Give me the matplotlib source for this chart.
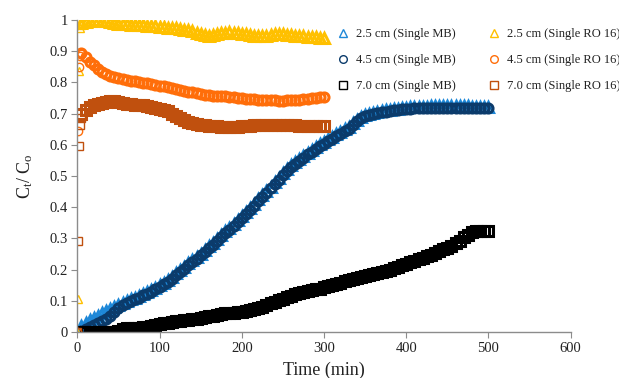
import numpy as np
import matplotlib
matplotlib.use("Agg")
import matplotlib.pyplot as plt

plt.rcParams['font.family'] = ['Liberation Serif', 'DejaVu Serif']
plt.rcParams['mathtext.fontset'] = 'custom'
plt.rcParams['mathtext.rm'] = 'Liberation Serif'
plt.rcParams['mathtext.it'] = 'Liberation Serif:italic'

# ---- MB series (time 0..500 min, every 5 min) ----
t_mb = list(range(0, 505, 5))
mb_25 = [0.0, 0.02, 0.03, 0.037, 0.045, 0.052, 0.06, 0.066, 0.073, 0.08,
         0.086, 0.092, 0.098, 0.104, 0.11, 0.116, 0.123, 0.128, 0.135, 0.142,
         0.15, 0.158, 0.167, 0.177, 0.188, 0.198, 0.209, 0.22, 0.23, 0.241,
         0.251, 0.262, 0.274, 0.286, 0.298, 0.31, 0.322, 0.334, 0.346, 0.358,
         0.37, 0.383, 0.397, 0.41, 0.425, 0.438, 0.452, 0.466, 0.48, 0.494,
         0.508, 0.522, 0.535, 0.545, 0.555, 0.565, 0.575, 0.584, 0.593, 0.602,
         0.61, 0.618, 0.626, 0.634, 0.642, 0.65, 0.658, 0.67, 0.68, 0.69,
         0.697, 0.7, 0.703, 0.706, 0.708, 0.71, 0.712, 0.714, 0.716, 0.718,
         0.719, 0.72, 0.721, 0.722, 0.722, 0.722, 0.723, 0.723, 0.723, 0.723,
         0.723, 0.723, 0.723, 0.723, 0.723, 0.723, 0.722, 0.722, 0.722, 0.722,
         0.721]
mb_45 = [0.0, 0.003, 0.008, 0.015, 0.022, 0.03, 0.036, 0.042, 0.05, 0.065,
         0.078, 0.086, 0.092, 0.098, 0.104, 0.11, 0.117, 0.122, 0.129, 0.136,
         0.144, 0.152, 0.161, 0.171, 0.182, 0.192, 0.203, 0.214, 0.224, 0.235,
         0.245, 0.256, 0.268, 0.28, 0.292, 0.304, 0.316, 0.328, 0.34, 0.352,
         0.364, 0.377, 0.391, 0.404, 0.419, 0.432, 0.446, 0.46, 0.474, 0.488,
         0.502, 0.516, 0.529, 0.539, 0.549, 0.559, 0.569, 0.578, 0.587, 0.596,
         0.604, 0.612, 0.62, 0.628, 0.636, 0.644, 0.652, 0.664, 0.675, 0.685,
         0.692, 0.696, 0.699, 0.702, 0.704, 0.706, 0.708, 0.71, 0.712, 0.714,
         0.715, 0.716, 0.717, 0.718, 0.718, 0.718, 0.719, 0.719, 0.719, 0.719,
         0.719, 0.719, 0.719, 0.719, 0.719, 0.719, 0.718, 0.718, 0.718, 0.718,
         0.717]
mb_70 = [0.0, 0.0, 0.0, 0.0, 0.0, 0.0, 0.0, 0.0, 0.0, 0.001,
         0.003, 0.008, 0.012, 0.013, 0.014, 0.014, 0.015, 0.016, 0.018, 0.022,
         0.026, 0.028, 0.03, 0.032, 0.034, 0.035, 0.037, 0.038, 0.04, 0.042,
         0.044, 0.047, 0.05, 0.052, 0.055, 0.057, 0.059, 0.061, 0.062, 0.063,
         0.065, 0.067, 0.07, 0.073, 0.077, 0.081, 0.086, 0.092, 0.097, 0.102,
         0.107, 0.111, 0.116, 0.121, 0.125, 0.129, 0.132, 0.134, 0.136, 0.139,
         0.143, 0.147, 0.151, 0.155, 0.158, 0.162, 0.165, 0.169, 0.172, 0.176,
         0.18, 0.183, 0.187, 0.19, 0.193, 0.196, 0.2, 0.204, 0.208, 0.213,
         0.218, 0.223, 0.228, 0.233, 0.238, 0.243, 0.248, 0.254, 0.26, 0.265,
         0.27, 0.276, 0.284, 0.293, 0.303, 0.312, 0.319, 0.323, 0.325, 0.325,
         0.325]

# ---- RO 16 series (time 0..300 min) ----
t_ro = [0, 1, 2, 3, 4] + list(range(5, 305, 5))
ro_25 = [0.0, 0.105, 0.835, 0.975, 0.985,
         0.99, 0.995, 0.998, 1.0, 1.0, 0.998, 0.996, 0.993, 0.99, 0.988,
         0.987, 0.986, 0.985, 0.985, 0.984, 0.983, 0.982, 0.981, 0.98, 0.979,
         0.977, 0.976, 0.975, 0.973, 0.971, 0.969, 0.967, 0.964, 0.96, 0.956,
         0.952, 0.95, 0.952, 0.955, 0.958, 0.96, 0.961, 0.96, 0.958, 0.956,
         0.954, 0.952, 0.95, 0.948, 0.948, 0.95, 0.953, 0.955, 0.956, 0.955,
         0.953, 0.951, 0.95, 0.949, 0.948, 0.947, 0.946, 0.945, 0.943, 0.942]
ro_45 = [0.0, 0.645, 0.85, 0.885, 0.892,
         0.893, 0.882, 0.867, 0.855, 0.843, 0.833, 0.826, 0.821, 0.817, 0.814,
         0.811, 0.809, 0.806, 0.804, 0.802, 0.799, 0.797, 0.794, 0.792, 0.789,
         0.787, 0.784, 0.781, 0.778, 0.775, 0.772, 0.77, 0.768, 0.765, 0.763,
         0.761, 0.76, 0.758, 0.757, 0.756, 0.755, 0.754, 0.752, 0.75, 0.749,
         0.748, 0.747, 0.746, 0.745, 0.744, 0.743, 0.742, 0.742, 0.741, 0.741,
         0.742, 0.743, 0.744, 0.745, 0.746, 0.748, 0.749, 0.751, 0.752, 0.753]
ro_70 = [0.0, 0.29, 0.595, 0.665, 0.685,
         0.698, 0.712, 0.72, 0.726, 0.73, 0.733, 0.737, 0.74, 0.741, 0.738,
         0.735, 0.732, 0.73, 0.729, 0.728, 0.726, 0.724, 0.721, 0.718, 0.715,
         0.712, 0.708, 0.7, 0.692, 0.685, 0.678, 0.673, 0.669, 0.666, 0.664,
         0.662, 0.661, 0.66, 0.659, 0.658, 0.658, 0.658, 0.658, 0.658, 0.659,
         0.66, 0.661, 0.662, 0.663, 0.664, 0.664, 0.664, 0.663, 0.662, 0.662,
         0.662, 0.662, 0.662, 0.661, 0.661, 0.661, 0.661, 0.661, 0.661, 0.661]

labels = ['2.5 cm (Single MB)', '4.5 cm (Single MB)', '7.0 cm (Single MB)',
          '2.5 cm (Single RO 16)', '4.5 cm (Single RO 16)', '7.0 cm (Single RO 16)']
colors = ['#1E88D8', '#0B3B6B', '#000000', '#FFC000', '#FF6E0A', '#C0500E']
markers = ['^', 'o', 's', '^', 'o', 's']
series = [(t_mb, mb_25), (t_mb, mb_45), (t_mb, mb_70),
          (t_ro, ro_25), (t_ro, ro_45), (t_ro, ro_70)]
n_sparse = [1, 1, 1, 5, 5, 5]   # early, isolated readings drawn with thin outlines

fig = plt.figure(figsize=(6.19, 3.78), dpi=100)
ax = fig.add_axes([0.125, 0.122, 0.797, 0.825])

for (x, y), c, m, n in zip(series, colors, markers, n_sparse):
    ax.plot(x[n:], y[n:], linestyle='none', marker=m, markersize=6.5,
            markerfacecolor='none', markeredgecolor=c, markeredgewidth=2.2)
    ax.plot(x[:n], y[:n], linestyle='none', marker=m, markersize=6,
            markerfacecolor='none', markeredgecolor=c, markeredgewidth=1.0)

# legend proxies with thin markers
handles = [plt.Line2D([], [], linestyle='none', marker=m, markersize=5.5,
                      markerfacecolor='none', markeredgecolor=c,
                      markeredgewidth=1.0, label=lab)
           for c, m, lab in zip(colors, markers, labels)]

ax.set_xlim(0, 600)
ax.set_ylim(0, 1)
ax.set_xticks(range(0, 700, 100))
ax.set_yticks([i / 10 for i in range(11)])
ax.set_yticklabels(['0'] + ['%.1f' % (i / 10) for i in range(1, 10)] + ['1'])
for s in ['top', 'right']:
    ax.spines[s].set_visible(False)
for s in ['left', 'bottom']:
    ax.spines[s].set_color('#8c8c8c')
    ax.spines[s].set_linewidth(1.0)
ax.tick_params(axis='both', direction='out', length=4, color='#8c8c8c',
               labelsize=10.5, labelcolor='#222222', pad=3)

ax.set_xlabel('Time (min)', fontsize=13, color='#222222', labelpad=5)
ax.set_ylabel(r'C$_\mathrm{t}$/ C$_\mathrm{o}$', fontsize=13, color='#222222', labelpad=10)

leg = ax.legend(handles=handles, ncol=2, loc='upper left',
                bbox_to_anchor=(0.506, 1.01), frameon=False, fontsize=9,
                handlelength=0.8, handletextpad=0.6, columnspacing=2.7,
                labelspacing=1.13)
for t in leg.get_texts():
    t.set_color('#222222')

fig.savefig('out.png', dpi=100)
